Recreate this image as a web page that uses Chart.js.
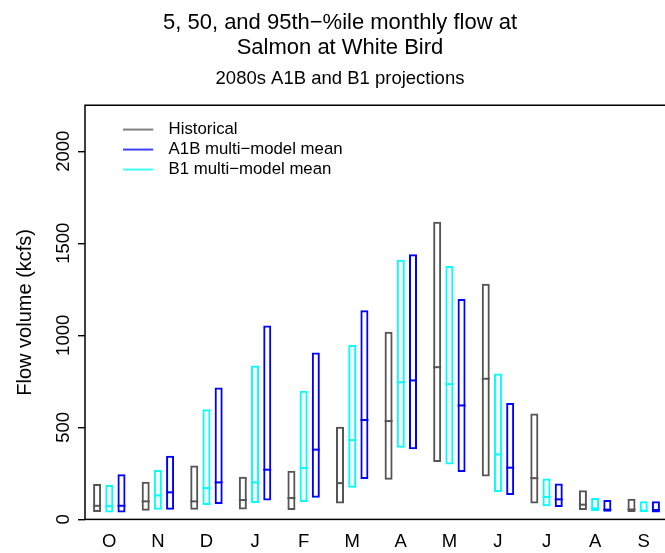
<!DOCTYPE html>
<html><head><meta charset="utf-8">
<script src="https://cdn.jsdelivr.net/npm/chart.js@4/dist/chart.umd.min.js"></script>
<style>html,body{margin:0;padding:0;background:#fff;overflow:hidden;} #wrap{width:680px;height:553px;}</style>
</head><body><div id="wrap"><canvas id="c" width="680" height="553"></canvas></div>
<script>
// ---- data (5th, 50th, 95th percentile monthly flow, kcfs) ----
const months = ['O','N','D','J','F','M','A','M','J','J','A','S'];
const histLow  = [40, 47, 53, 54, 51, 87, 216, 312, 233, 86, 51, 40];
const histMed  = [74, 98, 98, 105, 116, 197, 534, 827, 764, 224, 80, 54];
const histHigh = [192, 205, 293, 232, 264, 504, 1020, 1617, 1280, 576, 159, 112];
const b1Low    = [38, 53, 78, 89, 94, 172, 389, 298, 149, 72, 45, 40];
const b1Med    = [72, 130, 170, 201, 279, 431, 745, 735, 353, 122, 60, 47];
const b1High   = [187, 268, 598, 836, 699, 947, 1410, 1376, 793, 222, 116, 98];
const a1bLow   = [38, 53, 83, 103, 118, 219, 381, 257, 133, 67, 42, 38];
const a1bMed   = [74, 147, 201, 270, 379, 540, 755, 619, 281, 109, 53, 51];
const a1bHigh  = [245, 346, 716, 1053, 907, 1136, 1440, 1198, 633, 195, 105, 98];
const yTicks = [0, 500, 1000, 1500, 2000];
const seriesNames = ['Historical', 'B1 multi\u2212model mean', 'A1B multi\u2212model mean'];
const legendOrder = ['Historical', 'A1B multi\u2212model mean', 'B1 multi\u2212model mean'];
const seriesColors = ['#555555', '#00FFFF', '#0000FF'];

const lows = [histLow, b1Low, a1bLow];
const highs = [histHigh, b1High, a1bHigh];
const medians = [histMed, b1Med, a1bMed];

Chart.defaults.font.family = '"Liberation Sans", Arial, Helvetica, sans-serif';
Chart.defaults.color = '#000';

function lineImg(color) {
  const c = document.createElement('canvas');
  c.width = 37; c.height = 4;
  const g = c.getContext('2d');
  g.strokeStyle = color; g.lineWidth = 1.5;
  g.beginPath(); g.moveTo(0, 2); g.lineTo(30, 2); g.stroke();
  return c;
}

const medianPlugin = {
  id: 'medians',
  afterDatasetsDraw(chart) {
    const ctx = chart.ctx, ys = chart.scales.y;
    chart.data.datasets.forEach((ds, i) => {
      const meta = chart.getDatasetMeta(i);
      meta.data.forEach((el, j) => {
        const p = el.getProps(['x', 'width'], true);
        const y = ys.getPixelForValue(medians[i][j]);
        ctx.save();
        ctx.strokeStyle = seriesColors[i];
        ctx.lineWidth = 2;
        ctx.beginPath();
        ctx.moveTo(p.x - p.width / 2, y);
        ctx.lineTo(p.x + p.width / 2, y);
        ctx.stroke();
        ctx.restore();
      });
    });
  }
};

const framePlugin = {
  id: 'frame',
  afterDatasetsDraw(chart) {
    const a = chart.chartArea, ctx = chart.ctx;
    ctx.save();
    ctx.strokeStyle = '#000';
    ctx.lineWidth = 1.5;
    ctx.strokeRect(a.left, a.top, a.right - a.left, a.bottom - a.top);
    ctx.restore();
  }
};

const legendPosPlugin = {
  id: 'legendPos',
  afterLayout(chart) {
    const l = chart.legend;
    if (!l) return;
    const a = chart.chartArea;
    l.left = a.left + 35;
    l.top = a.top + 12.7;
    l.right = l.left + l.width;
    l.bottom = l.top + 200;
  }
};

new Chart(document.getElementById('c'), {
  type: 'bar',
  data: {
    labels: months,
    datasets: seriesNames.map((name, i) => ({
      label: name,
      data: months.map((m, j) => [lows[i][j], highs[i][j]]),
      borderColor: seriesColors[i],
      backgroundColor: 'rgba(255,255,255,0)',
      borderWidth: 2,
      borderSkipped: false,
      categoryPercentage: 0.7534,
      barPercentage: 0.656
    }))
  },
  options: {
    responsive: false,
    animation: false,
    devicePixelRatio: 1,
    layout: { padding: 0 },
    plugins: {
      title: {
        display: true,
        text: ['5, 50, and 95th\u2212%ile monthly flow at', 'Salmon at White Bird'],
        font: { size: 22, weight: 'normal', lineHeight: 1.16 },
        color: '#000',
        padding: { top: 10, bottom: 0 }
      },
      subtitle: {
        display: true,
        text: '2080s A1B and B1 projections',
        font: { size: 18.5, weight: 'normal', lineHeight: 1.2 },
        color: '#000',
        padding: { top: 7.2, bottom: 14.8 }
      },
      legend: {
        display: true,
        position: 'chartArea',
        align: 'start',
        labels: {
          usePointStyle: true,
          pointStyleWidth: 37,
          padding: 3.2,
          color: '#000',
          font: { size: 16.8 },
          generateLabels(chart) {
            return Chart.defaults.plugins.legend.labels.generateLabels(chart).map(it => {
              it.pointStyle = lineImg(seriesColors[it.datasetIndex]);
              return it;
            });
          },
          sort: (a, b) => legendOrder.indexOf(a.text) - legendOrder.indexOf(b.text)
        }
      },
      tooltip: { enabled: false }
    },
    scales: {
      x: {
        type: 'category',
        offset: true,
        grid: { display: false, drawTicks: false, offset: false },
        border: { display: false },
        ticks: { color: '#000', font: { size: 18.5 }, padding: 11.3, autoSkip: false, maxRotation: 0 },
        afterFit: s => { s.height = 33.6; }
      },
      y: {
        type: 'linear',
        position: 'left',
        min: 0,
        max: 2250,
        afterBuildTicks: s => { s.ticks = yTicks.map(v => ({ value: v })); },
        afterFit: s => { s.width = 85; s.paddingTop = 0; s.paddingBottom = 0; },
        ticks: {
          minRotation: 90, maxRotation: 90, crossAlign: 'center', padding: -6.6,
          color: '#000', font: { size: 18.5 },
          callback: v => String(v)
        },
        grid: { drawOnChartArea: false, drawTicks: true, tickLength: 7, color: '#000', lineWidth: 1.4 },
        border: { display: false },
        title: { display: true, text: 'Flow volume (kcfs)', color: '#000', font: { size: 20 }, padding: { top: 13, bottom: 0 } }
      },
      yR: {
        type: 'linear',
        position: 'right',
        display: true,
        grid: { display: false, drawTicks: false },
        border: { display: false },
        ticks: { display: false },
        afterFit: s => { s.width = 12; s.paddingTop = 0; s.paddingBottom = 0; }
      }
    }
  },
  plugins: [medianPlugin, framePlugin, legendPosPlugin]
});
</script>
</body></html>
